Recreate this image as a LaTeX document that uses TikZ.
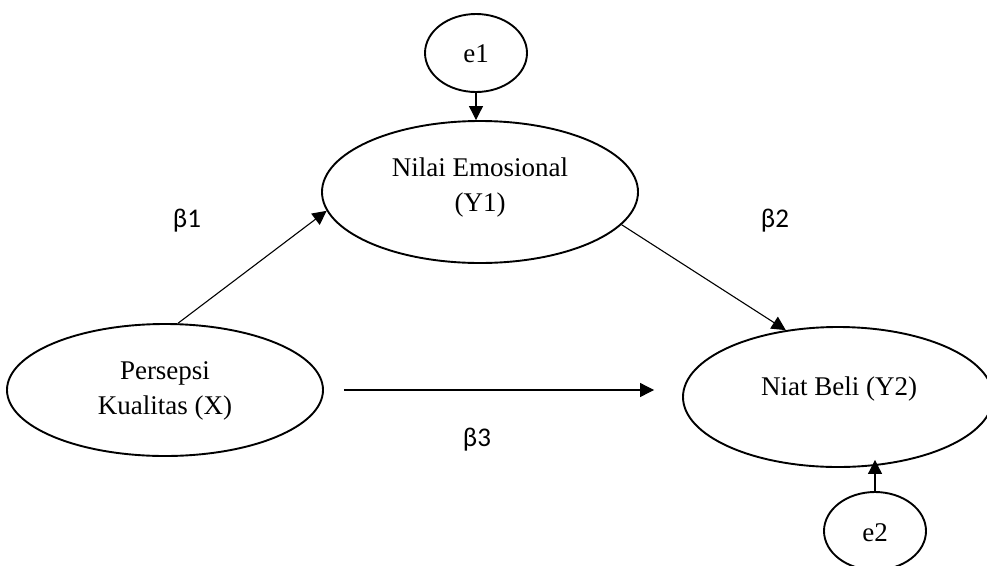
\documentclass[tikz,border=0pt]{standalone}
\usepackage{fontspec}
\setmainfont{Liberation Serif}
\newfontfamily\betafont{Carlito}
\usetikzlibrary{shapes.geometric,arrows.meta}
\tikzset{
  oval/.style={draw, ellipse, line width=1.9pt, inner sep=0pt},
  txt/.style={font=\fontsize{27}{35}\selectfont, align=center, inner sep=0pt},
  coef/.style={font=\betafont\fontsize{27}{32}\selectfont, inner sep=0pt},
  arr/.style={line width=1.1pt, -{Triangle[length=14pt,width=14pt]}}
}
\begin{document}
\begin{tikzpicture}[x=1pt,y=-1pt]
\useasboundingbox (0,0) rectangle (987,565);
% ellipses
\node[oval, minimum width=102pt, minimum height=78pt] (e1) at (476,53) {};
\node[oval, minimum width=316pt, minimum height=142pt] (Y1) at (480,192) {};
\node[oval, minimum width=316pt, minimum height=132pt] (X) at (165,390) {};
\node[oval, minimum width=310pt, minimum height=140pt] (Y2) at (838,397) {};
\node[oval, minimum width=102pt, minimum height=78pt] (e2) at (875,531) {};
% texts
\node[txt] (te1) at (476,54) {e1};
\node[txt] (tY1) at (480,188) {Nilai Emosional\\(Y1)};
\node[txt] (tX) at (165,391) {Persepsi\\Kualitas (X)};
\node[txt] (tY2) at (839,389) {Niat Beli (Y2)};
\node[txt] (te2) at (875,533) {e2};
\node[coef] (b1) at (187,221) {β1};
\node[coef] (b2) at (775,221) {β2};
\node[coef] (b3) at (477,440) {β3};
% connectors
\draw[arr] (e1.south) -- (e1.south |- Y1.north);
\draw[arr] (X.79) -- (Y1.187);
\draw[arr] (Y1.347) -- (Y2.128);
\draw[arr, shorten <=20pt, shorten >=28pt] (X.east) -- (X.east -| Y2.west);
\draw[arr, shorten >=-8pt] (e2.north) -- (e2.north |- Y2.south);
\end{tikzpicture}
\end{document}
